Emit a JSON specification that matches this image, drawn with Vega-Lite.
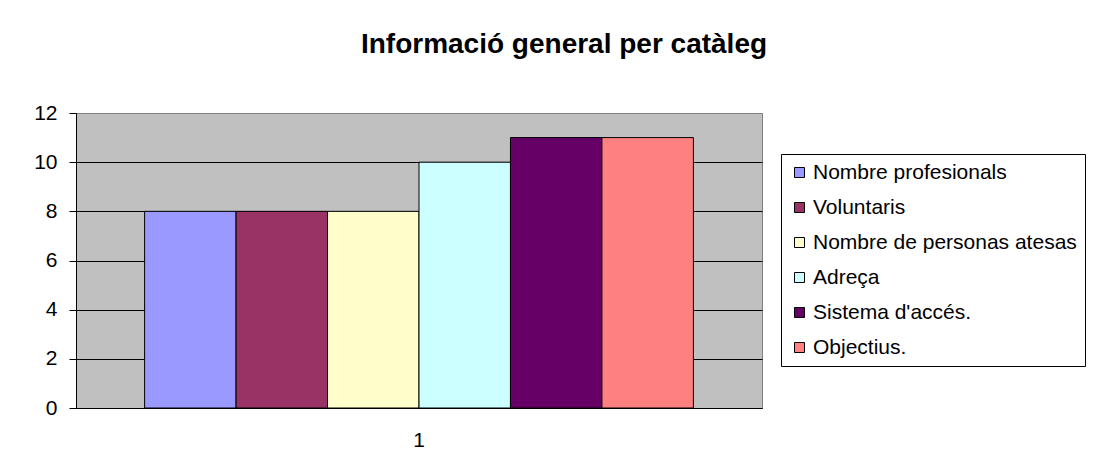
{
  "$schema": "https://vega.github.io/schema/vega-lite/v6.json",
  "width": 686,
  "height": 295,
  "autosize": {"type": "none"},
  "padding": {"left": 76, "top": 113, "right": 353, "bottom": 63},
  "background": "white",
  "title": {
    "text": "Informació general per catàleg",
    "font": "Liberation Sans",
    "fontSize": 28,
    "fontWeight": "bold",
    "color": "black",
    "frame": "group",
    "anchor": "middle",
    "dx": 145,
    "offset": 21,
    "baseline": "alphabetic"
  },
  "data": {
    "values": [
      {"categoria": "1", "serie": "Nombre profesionals", "valor": 8},
      {"categoria": "1", "serie": "Voluntaris", "valor": 8},
      {"categoria": "1", "serie": "Nombre de personas atesas", "valor": 8},
      {"categoria": "1", "serie": "Adreça", "valor": 10},
      {"categoria": "1", "serie": "Sistema d'accés.", "valor": 11},
      {"categoria": "1", "serie": "Objectius.", "valor": 11}
    ]
  },
  "mark": {"type": "bar", "stroke": "black", "strokeWidth": 1, "opacity": 1},
  "encoding": {
    "x": {
      "field": "categoria",
      "type": "nominal",
      "scale": {"paddingInner": 0, "paddingOuter": 0},
      "axis": {
        "title": null,
        "labelAngle": 0,
        "ticks": false,
        "grid": false,
        "domainColor": "black",
        "domainWidth": 1,
        "labelFont": "Liberation Sans",
        "labelFontSize": 21,
        "labelColor": "black",
        "labelPadding": 21
      }
    },
    "xOffset": {
      "field": "serie",
      "type": "nominal",
      "sort": null,
      "scale": {
        "domain": ["Nombre profesionals", "Voluntaris", "Nombre de personas atesas", "Adreça", "Sistema d'accés.", "Objectius."],
        "paddingInner": 0,
        "paddingOuter": 0.75
      }
    },
    "y": {
      "field": "valor",
      "type": "quantitative",
      "scale": {"domain": [0, 12], "nice": false},
      "axis": {
        "title": null,
        "values": [0, 2, 4, 6, 8, 10, 12],
        "grid": true,
        "gridColor": {"condition": {"test": "datum.value === 12", "value": "#808080"}, "value": "black"},
        "gridWidth": 1,
        "gridOpacity": 1,
        "tickSize": 7,
        "tickColor": "black",
        "tickWidth": 1,
        "domainColor": "black",
        "domainWidth": 1,
        "labelFont": "Liberation Sans",
        "labelFontSize": 21,
        "labelColor": "black",
        "labelPadding": 12
      }
    },
    "fill": {
      "field": "serie",
      "type": "nominal",
      "sort": null,
      "scale": {
        "domain": ["Nombre profesionals", "Voluntaris", "Nombre de personas atesas", "Adreça", "Sistema d'accés.", "Objectius."],
        "range": ["#9999FF", "#993366", "#FFFFCC", "#CCFFFF", "#660066", "#FF8080"]
      },
      "legend": {
        "title": null,
        "orient": "none",
        "legendX": 705,
        "legendY": 41,
        "strokeColor": "black",
        "fillColor": "white",
        "padding": 8,
        "symbolType": "square",
        "symbolSize": 100,
        "symbolStrokeColor": "black",
        "symbolStrokeWidth": 1,
        "symbolOpacity": 1,
        "labelFont": "Liberation Sans",
        "labelFontSize": 21,
        "labelColor": "black",
        "labelOffset": 3,
        "rowPadding": 13,
        "labelLimit": 400
      }
    }
  },
  "config": {
    "view": {"fill": "#C0C0C0", "stroke": "#808080", "strokeWidth": 1}
  }
}
